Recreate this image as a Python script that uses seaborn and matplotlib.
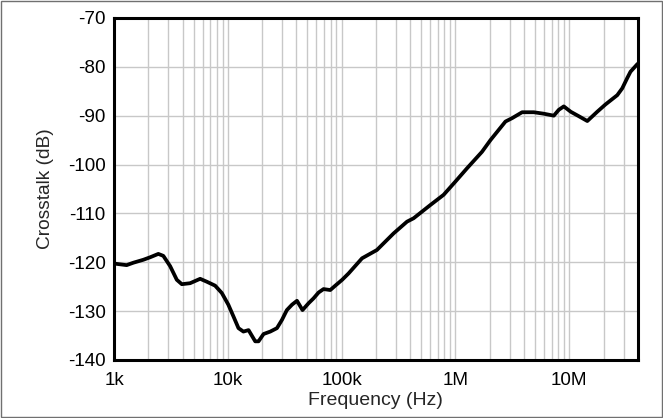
import numpy as np
import pandas as pd
import matplotlib
matplotlib.use("Agg")
import matplotlib.pyplot as plt
from matplotlib.patches import Rectangle
from matplotlib.ticker import LogLocator, FixedLocator, NullFormatter
import seaborn as sns

# Crosstalk vs frequency
freq_hz = [1.0e3, 1.02e3, 1.29e3, 1.48e3, 1.81e3, 2.07e3, 2.45e3, 2.71e3, 3.11e3,
           3.56e3, 3.94e3, 4.66e3, 5.71e3, 6.54e3, 7.73e3, 8.85e3, 10.1e3,
           11.2e3, 12.4e3, 13.7e3, 15.2e3, 17.4e3, 18.6e3, 20.6e3, 23.6e3,
           27.0e3, 29.9e3, 33.0e3, 36.6e3, 40.5e3, 45.3e3, 51.2e3, 56.6e3,
           62.7e3, 69.3e3, 79.4e3, 87.9e3, 101e3, 115e3, 151e3, 204e3,
           286e3, 375e3, 429e3, 601e3, 787e3, 998e3, 1.26e6, 1.71e6, 2.03e6,
           2.75e6, 3.15e6, 3.85e6, 4.88e6, 5.97e6, 7.31e6, 8.09e6, 8.95e6,
           10.3e6, 12.1e6, 14.4e6, 17.6e6, 20.8e6, 26.4e6, 29.2e6, 32.3e6,
           34.5e6, 39.8e6]
crosstalk_db = [-120.3, -120.3, -120.6, -120.1, -119.5, -119.0, -118.3, -118.7, -120.8,
                -123.6, -124.5, -124.3, -123.4, -124.0, -124.8, -126.3, -128.7,
                -131.1, -133.5, -134.2, -133.9, -136.2, -136.2, -134.7, -134.2,
                -133.5, -131.8, -129.8, -128.7, -127.9, -129.8, -128.4, -127.4,
                -126.2, -125.5, -125.7, -124.8, -123.6, -122.3, -119.2, -117.5,
                -114.1, -111.7, -111.0, -108.3, -106.2, -103.5, -100.8, -97.4, -95.0,
                -91.2, -90.5, -89.3, -89.3, -89.6, -90.0, -88.8, -88.1,
                -89.2, -90.1, -91.1, -89.2, -87.7, -85.8, -84.4, -82.3,
                -81.0, -79.4]

x_ticks = [1e3, 1e4, 1e5, 1e6, 1e7]
x_tick_labels = ["1k", "10k", "100k", "1M", "10M"]
y_ticks = [-140, -130, -120, -110, -100, -90, -80, -70]

df = pd.DataFrame({"Frequency": freq_hz, "Crosstalk": crosstalk_db})

sns.set_style("white")
plt.rcParams["font.family"] = ["Liberation Sans", "DejaVu Sans"]

fig = plt.figure(figsize=(6.63, 4.18), dpi=100)
ax = fig.add_axes([0.172, 0.139, 0.790, 0.818])

ax.set_xscale("log")
sns.lineplot(data=df, x="Frequency", y="Crosstalk", ax=ax, color="black",
             linewidth=2.7, zorder=3)

ax.set_xlim(1e3, 40e6)
ax.set_ylim(-140, -70)
ax.xaxis.set_major_locator(FixedLocator(x_ticks))
ax.set_xticklabels(x_tick_labels)
ax.xaxis.set_minor_locator(LogLocator(base=10, subs=np.arange(2, 10), numticks=20))
ax.xaxis.set_minor_formatter(NullFormatter())
ax.set_yticks(y_ticks)
ax.set_yticklabels([str(v) for v in y_ticks])

ax.grid(which="major", axis="both", color="#c8c8c8", linewidth=1.0, zorder=0)
ax.grid(which="minor", axis="x", color="#c8c8c8", linewidth=1.0, zorder=0)
ax.tick_params(axis="both", which="both", length=0, labelsize=13.6,
               labelcolor="black")
ax.tick_params(axis="x", pad=9)
ax.tick_params(axis="y", pad=6)

for sp in ax.spines.values():
    sp.set_visible(True)
    sp.set_color("black")
    sp.set_linewidth(2.2)

ax.set_xlabel("Frequency (Hz)", fontsize=14, labelpad=2)
ax.set_ylabel("Crosstalk (dB)", fontsize=13.8, labelpad=10)

fig.patches.append(Rectangle((0.002, 0.003), 0.996, 0.994, transform=fig.transFigure,
                             fill=False, edgecolor="#707070", linewidth=1.0))

fig.savefig("out.png", dpi=100)
